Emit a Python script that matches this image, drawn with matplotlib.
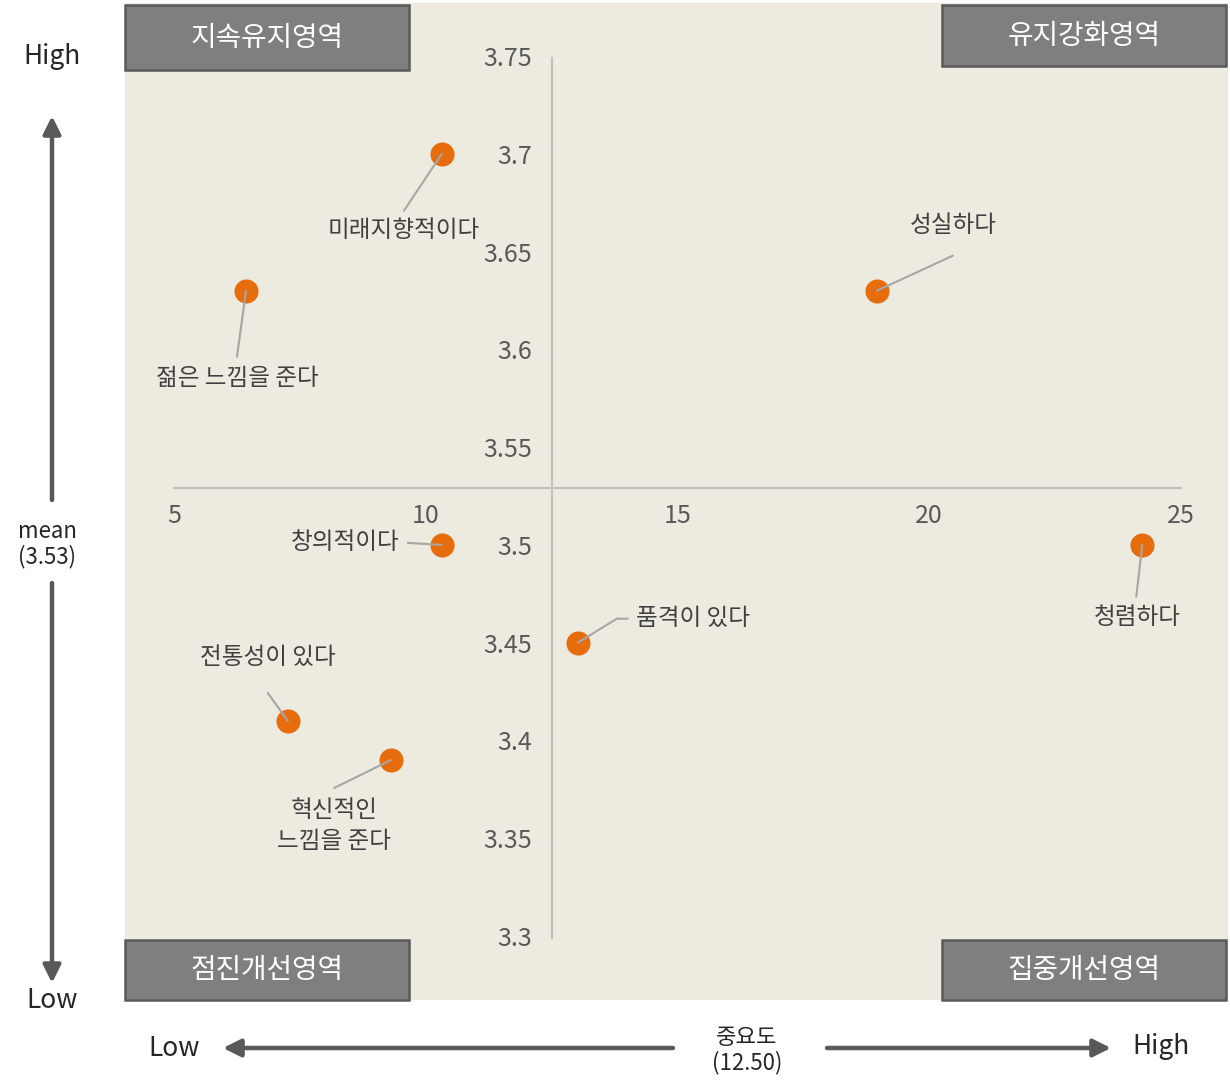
import matplotlib
matplotlib.use("Agg")
import matplotlib.pyplot as plt
from matplotlib.patches import Rectangle, FancyArrowPatch
from matplotlib.transforms import offset_copy

plt.rcParams["font.family"] = ["Noto Sans CJK KR", "DejaVu Sans"]

# data
labels = [
    "미래지향적이다",
    "젊은 느낌을 준다",
    "성실하다",
    "창의적이다",
    "청렴하다",
    "품격이 있다",
    "전통성이 있다",
    "혁신적인\n느낌을 준다",
]
importance = [10.32, 6.43, 18.96, 10.32, 24.23, 13.02, 7.26, 9.31]
mean_score = [3.70, 3.63, 3.63, 3.50, 3.50, 3.45, 3.41, 3.39]

x_mean = 12.50
y_mean = 3.529

xticks = [5, 10, 15, 20, 25]
yticks = [3.3, 3.35, 3.4, 3.45, 3.5, 3.55, 3.6, 3.65, 3.7, 3.75]
ytick_labels = ["3.3", "3.35", "3.4", "3.45", "3.5", "3.55", "3.6", "3.65", "3.7", "3.75"]

quadrants = ["지속유지영역", "유지강화영역", "점진개선영역", "집중개선영역"]

# label layout: leader path (pixel offsets from the point), text offset, alignment
leaders = [
    [(0, 0), (-38, -57)],
    [(0, 0), (-9, -66)],
    [(0, 0), (76, 35)],
    [(0, 0), (-34, 2)],
    [(0, 0), (-6, -52)],
    [(0, 0), (39, 24), (50, 24)],
    [(0, 0), (-20, 28)],
    [(0, 0), (-57, -28)],
]
text_offsets = [(-38, -77), (-9, -88), (76, 65), (-42, 2), (-5, -73), (58, 24), (-20, 63), (-57, -66)]
text_ha = ["center", "center", "center", "right", "center", "left", "center", "center"]

W, H = 1230, 1080
BG = "#EDEAE0"
ORANGE = "#E66C0C"
DARK = "#595959"


def fp(x, y):
    return (x / W, 1 - y / H)


fig = plt.figure(figsize=(W / 100, H / 100), dpi=100)
ax = fig.add_axes([125 / W, 1 - 1000 / H, 1103 / W, 997 / H])
ax.set_facecolor(BG)

ax.set_xlim(4.027, 25.933)
ax.set_ylim(3.2673, 3.7771)

for side in ["top", "right"]:
    ax.spines[side].set_visible(False)
ax.spines["left"].set_position(("data", x_mean))
ax.spines["bottom"].set_position(("data", y_mean))
ax.spines["left"].set_bounds(3.299, 3.749)
ax.spines["bottom"].set_bounds(5, 25)
for side in ["left", "bottom"]:
    ax.spines[side].set_color("#BFBFBF")
    ax.spines[side].set_linewidth(1.5)

ax.set_xticks(xticks)
ax.set_xticklabels([str(t) for t in xticks])
ax.set_yticks(yticks)
ax.set_yticklabels(ytick_labels)
ax.tick_params(axis="x", length=0, pad=10.5, labelsize=18, labelcolor=DARK)
ax.tick_params(axis="y", length=0, pad=14, labelsize=18, labelcolor=DARK)

ax.scatter(importance, mean_score, s=300, color=ORANGE, zorder=3, linewidths=0)

for i, lab in enumerate(labels):
    xy = (importance[i], mean_score[i])
    path = leaders[i]
    for (x0, y0), (x1, y1) in zip(path[:-1], path[1:]):
        start = offset_copy(ax.transData, fig=fig, x=x0, y=y0, units="dots")
        ax.annotate(
            "", xy=xy, xycoords=start,
            xytext=(x1 - x0, y1 - y0), textcoords="offset pixels",
            arrowprops=dict(arrowstyle="-", color="#A6A6A6", lw=1.5,
                            shrinkA=0, shrinkB=0),
            zorder=4,
        )
    ax.annotate(
        lab, xy=xy, xycoords="data",
        xytext=text_offsets[i], textcoords="offset pixels",
        ha=text_ha[i], va="center", fontsize=17, color="#404040",
        linespacing=1.4, zorder=5,
    )

# quadrant boxes
boxes = [(125, 5, 409, 70), (942, 5, 1226, 66), (125, 940, 409, 1000), (942, 940, 1226, 1000)]
for name, (x0, y0, x1, y1) in zip(quadrants, boxes):
    fig.add_artist(Rectangle(fp(x0, y1), (x1 - x0) / W, (y1 - y0) / H,
                             transform=fig.transFigure, facecolor="#7F7F7F",
                             edgecolor="#5A5A5A", lw=1.8, zorder=5))
    fig.text((x0 + x1) / 2 / W, 1 - (y0 + y1) / 2 / H, name, ha="center", va="center",
             fontsize=20, color="white", zorder=6)


def arrow(p_from, p_to):
    fig.add_artist(FancyArrowPatch(fp(*p_from), fp(*p_to), transform=fig.transFigure,
                                   arrowstyle="-|>,head_length=7,head_width=3.5",
                                   mutation_scale=1.5, color=DARK, lw=3.2,
                                   shrinkA=0, shrinkB=0))


arrow((52, 500), (52, 116))
arrow((52, 583), (52, 983))
arrow((673, 1048), (223, 1048))
arrow((827, 1048), (1111, 1048))

fig.text(*fp(52, 57), "High", ha="center", va="center", fontsize=19, color="#262626")
fig.text(*fp(52, 1000), "Low", ha="center", va="center", fontsize=19, color="#262626")
fig.text(*fp(47, 544), "mean\n(3.53)", ha="center", va="center", fontsize=16, color="#262626",
         linespacing=1.1)
fig.text(*fp(174, 1048), "Low", ha="center", va="center", fontsize=19, color="#262626")
fig.text(*fp(1161, 1047), "High", ha="center", va="center", fontsize=19, color="#262626")
fig.text(*fp(747, 1050), "중요도\n(12.50)", ha="center", va="center", fontsize=16, color="#262626",
         linespacing=1.1)

fig.savefig("out.png", dpi=100, facecolor="white")
